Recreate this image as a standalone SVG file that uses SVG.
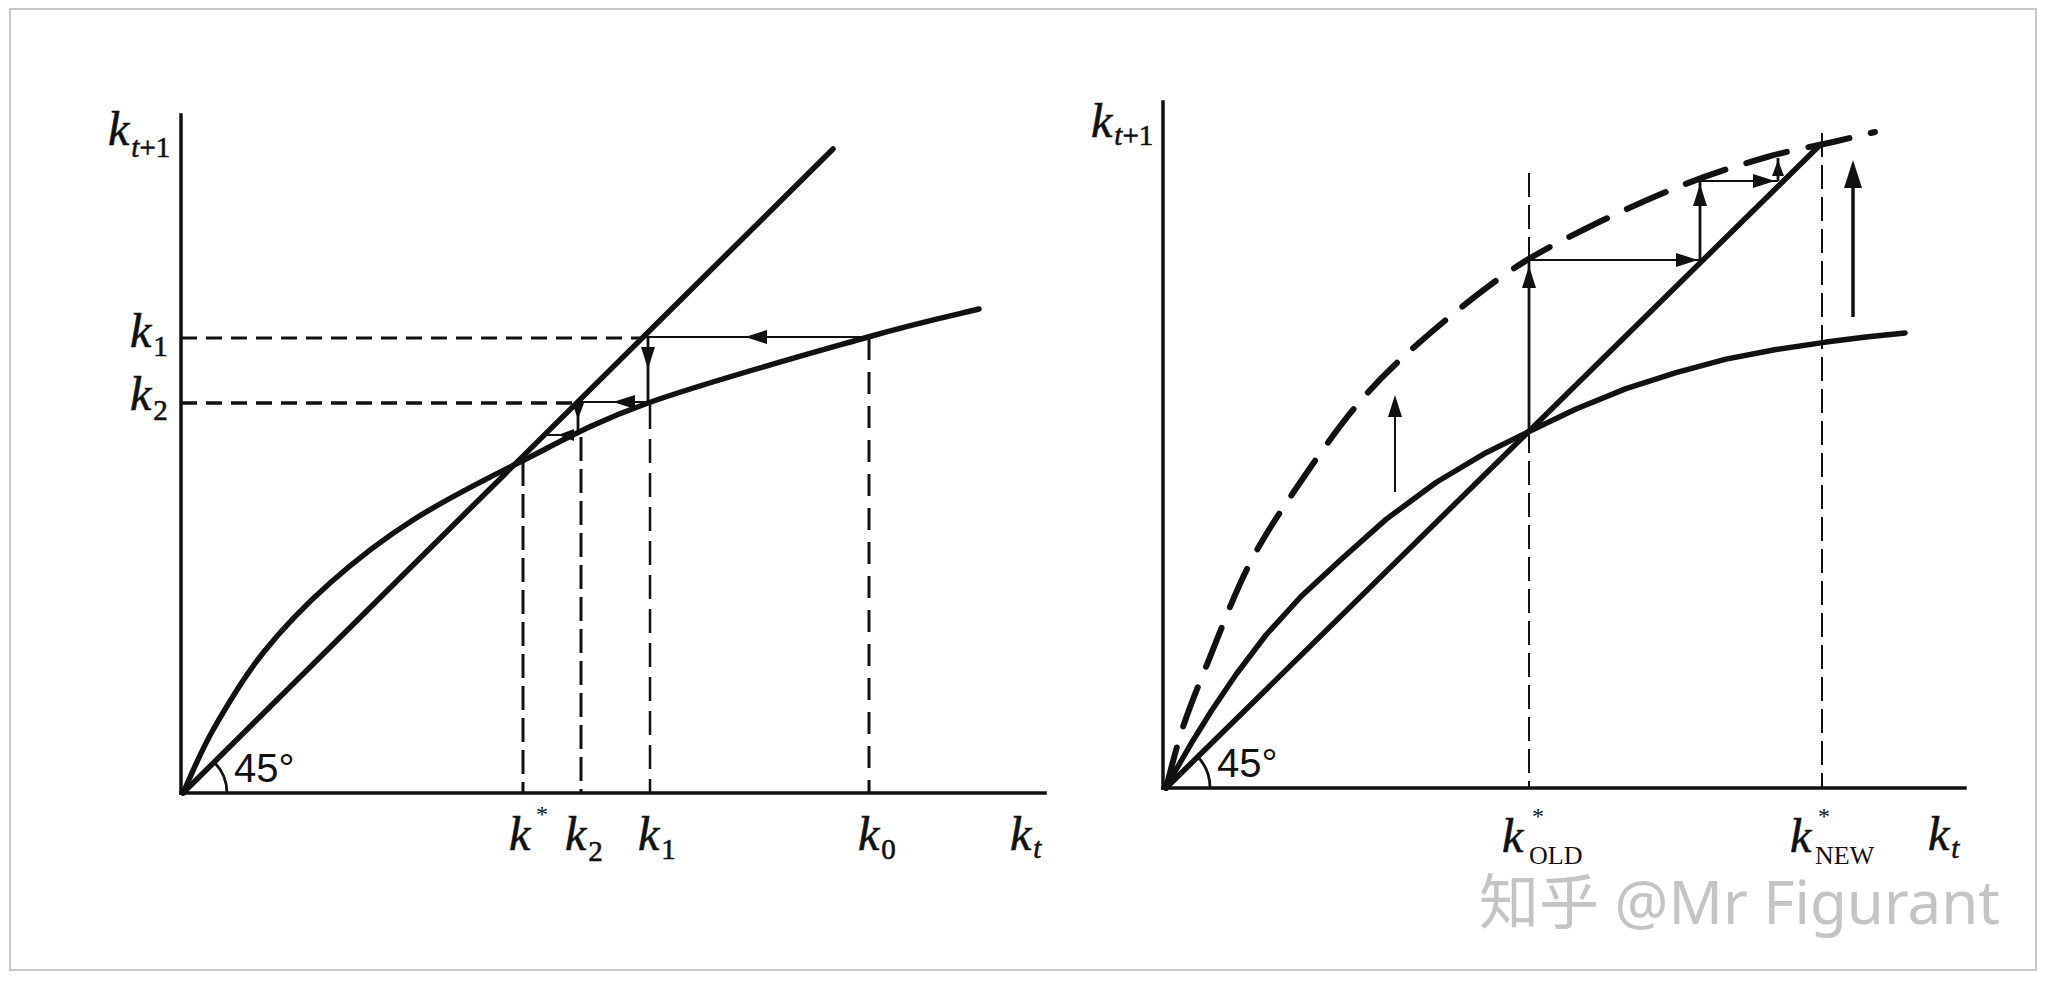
<svg xmlns="http://www.w3.org/2000/svg" xmlns:xlink="http://www.w3.org/1999/xlink" width="2052" height="981" viewBox="0 0 2052 981">
<style>
  .axis { stroke:#111; stroke-width:3.5; fill:none; stroke-linecap:square; }
  .curve { stroke:#111; stroke-width:5.5; fill:none; stroke-linecap:round; stroke-linejoin:round; }
  .thin { stroke:#111; stroke-width:2; fill:none; }
  .mid { stroke:#111; stroke-width:2.8; fill:none; }
  .dashL { stroke:#111; stroke-width:3; fill:none; stroke-dasharray:16 9; }
  .dashR { stroke:#111; stroke-width:2; fill:none; stroke-dasharray:24 8; }
  .dashC { stroke:#111; stroke-width:6; fill:none; stroke-dasharray:42 22; stroke-linecap:round; }
  .lab { font-family:"Liberation Serif", "DejaVu Serif", serif; fill:#111; }
  .k { font-size:48px; font-style:italic; stroke:#111; stroke-width:0.6; }
  .sub { font-size:29px; font-style:normal; }
  .subi { font-size:29px; font-style:italic; }
  .sc { font-size:26px; font-style:normal; }
  .star { font-size:24px; font-style:normal; }
  .deg { font-family:"Liberation Sans", "DejaVu Sans", sans-serif; font-size:40px; fill:#111; }
  .wm { font-family:"Noto Sans", "Noto Sans CJK SC", sans-serif; font-size:60px; fill:#c4c4c4; }
  .head { fill:#111; }
</style>
<defs>
  <path id="ah" d="M0,0 L-22,-7 L-22,7 z"/>
  <path id="ahs" d="M0,0 L-16,-6 L-16,6 z"/>
  <path id="ahb" d="M0,0 L-28,-9 L-28,9 z"/>
</defs>
<rect x="0" y="0" width="2052" height="981" fill="#ffffff"/>
<rect x="10" y="9" width="2026" height="961" fill="none" stroke="#c8c8c8" stroke-width="2"/>

<g id="left-panel">
  <g id="left-axes">
    <line class="axis" x1="181" y1="115" x2="181" y2="793"/>
    <line class="axis" x1="181" y1="793" x2="1045" y2="793"/>
    <path class="mid" d="M227,793 A44,44 0 0 0 214,762"/>
    <text class="deg" x="234" y="782">45°</text>
  </g>
  <g id="left-45-line">
    <line class="curve" x1="183" y1="793" x2="833" y2="149"/>
  </g>
  <g id="left-curve">
    <path class="curve" d="M183,793 C188,782.5 199.7,753.3 213,730 C226.3,706.7 243.5,677.5 263,653 C282.5,628.5 305,605.2 330,583 C355,560.8 381.3,540.2 413,520 C444.7,499.8 480.8,481.5 520,462 C559.2,442.5 590,423.8 648,403 C706,382.2 812.8,352.7 868,337 C923.2,321.3 960.5,313.7 979,309"/>
  </g>
  <g id="left-labels">
    <text class="lab k" x="108" y="145">k<tspan class="subi" dx="2" dy="12">t</tspan><tspan class="sub">+1</tspan></text>
    <text class="lab k" x="130" y="347">k<tspan class="sub" dx="2" dy="9">1</tspan></text>
    <text class="lab k" x="130" y="410">k<tspan class="sub" dx="2" dy="10">2</tspan></text>
    <text class="lab k" x="509" y="850">k</text>
    <text class="lab star" x="536" y="822">*</text>
    <text class="lab k" x="565" y="850">k<tspan class="sub" dx="2" dy="11">2</tspan></text>
    <text class="lab k" x="638" y="850">k<tspan class="sub" dx="2" dy="9">1</tspan></text>
    <text class="lab k" x="858" y="850">k<tspan class="sub" dx="2" dy="9">0</tspan></text>
    <text class="lab k" x="1010" y="850">k<tspan class="subi" dx="2" dy="8">t</tspan></text>
  </g>
</g>

<g id="right-panel">
  <g id="right-axes">
    <line class="axis" x1="1163" y1="102" x2="1163" y2="788"/>
    <line class="axis" x1="1163" y1="788" x2="1965" y2="788"/>
    <path class="mid" d="M1210,788 A45,45 0 0 0 1197,756"/>
    <text class="deg" x="1217" y="777">45°</text>
  </g>
  <g id="right-45-line">
    <line class="curve" x1="1166" y1="788" x2="1820" y2="145"/>
  </g>
  <g id="right-old-curve">
    <path class="curve" d="M1166,788 L1176,769.8 L1191,743.8 L1211,711.5 L1236,674.5 L1266,635 L1301,596.5 L1341,559.4 L1386,519.4 L1436,482.5 L1486,452.7 L1528,432 L1576,409 L1626,388.6 L1676,372.6 L1726,359.1 L1776,349.5 L1826,342.1 L1866,337.1 L1905,332.9"/>
  </g>
  <g id="right-new-curve">
    <path class="dashC" d="M1166,788 C1168.8,777.8 1176,748 1183,727 C1190,706 1197.2,688.7 1208,662 C1218.8,635.3 1233.5,595.7 1248,567 C1262.5,538.3 1276.8,517 1295,490 C1313.2,463 1336.2,429.7 1357,405 C1377.8,380.3 1395,364 1420,342 C1445,320 1479.8,291.7 1507,273 C1534.2,254.3 1553.7,244.7 1583,230 C1612.3,215.3 1652.3,197.2 1683,185 C1713.7,172.8 1742,164.2 1767,157 C1792,149.8 1815,146.2 1833,142 C1851,137.8 1868,133.7 1875,132"/>
  </g>
  <g id="right-labels">
    <text class="lab k" x="1091" y="137">k<tspan class="subi" dx="2" dy="8">t</tspan><tspan class="sub">+1</tspan></text>
    <text class="lab k" x="1502" y="852">k</text>
    <text class="lab star" x="1532" y="824">*</text>
    <text class="lab sc" x="1529" y="864">OLD</text>
    <text class="lab k" x="1790" y="852">k</text>
    <text class="lab star" x="1818" y="824">*</text>
    <text class="lab sc" x="1815" y="864">NEW</text>
    <text class="lab k" x="1928" y="850">k<tspan class="subi" dx="2" dy="8">t</tspan></text>
  </g>
</g>

<g id="connectors">
  <line class="dashL" x1="181" y1="338" x2="643" y2="338"/>
  <line class="dashL" x1="181" y1="403" x2="578" y2="403" style="stroke-width:3.5"/>
  <line class="dashL" x1="523" y1="462" x2="523" y2="793" style="stroke-dasharray:24 8"/>
  <line class="dashL" x1="581" y1="437" x2="581" y2="793" style="stroke-dasharray:24 8"/>
  <line class="dashL" x1="650" y1="405" x2="650" y2="793" style="stroke-width:2.5;stroke-dasharray:24 10"/>
  <line class="dashL" x1="869" y1="338" x2="869" y2="793" style="stroke-dasharray:22 12"/>
  <line class="thin" x1="643" y1="337" x2="868" y2="337"/>
  <use href="#ah" class="head" transform="translate(745,337) rotate(180)"/>
  <line class="mid" x1="648" y1="337" x2="648" y2="403"/>
  <use href="#ah" class="head" transform="translate(648,369) rotate(90)"/>
  <line class="thin" x1="578" y1="402" x2="648" y2="402"/>
  <use href="#ah" class="head" transform="translate(613,402) rotate(180)"/>
  <line class="mid" x1="578" y1="402" x2="578" y2="435"/>
  <use href="#ahs" class="head" transform="translate(578,419) rotate(90)"/>
  <line class="thin" x1="545" y1="435" x2="578" y2="435"/>
  <use href="#ahs" class="head" transform="translate(558,435) rotate(180)"/>
  <line class="dashR" x1="1529" y1="173" x2="1529" y2="788"/>
  <line class="dashR" x1="1822" y1="133" x2="1822" y2="788"/>
  <line class="mid" x1="1529" y1="432" x2="1529" y2="262"/>
  <use href="#ah" class="head" transform="translate(1529,266) rotate(-90)"/>
  <line class="thin" x1="1529" y1="260" x2="1700" y2="260"/>
  <use href="#ah" class="head" transform="translate(1698,260)"/>
  <line class="mid" x1="1700" y1="260" x2="1700" y2="181"/>
  <use href="#ah" class="head" transform="translate(1700,184) rotate(-90)"/>
  <line class="thin" x1="1700" y1="181" x2="1778" y2="181"/>
  <use href="#ah" class="head" transform="translate(1775,181)"/>
  <line class="mid" x1="1778" y1="181" x2="1778" y2="158"/>
  <use href="#ahs" class="head" transform="translate(1778,160) rotate(-90)"/>
  <line class="thin" x1="1395" y1="492" x2="1395" y2="400"/>
  <use href="#ah" class="head" transform="translate(1395,395) rotate(-90)"/>
  <line class="mid" x1="1853" y1="317" x2="1853" y2="170" style="stroke-width:3.5"/>
  <use href="#ahb" class="head" transform="translate(1853,160) rotate(-90)"/>
</g>

<text class="wm" x="1479" y="924">知乎 @Mr Figurant</text>
</svg>
